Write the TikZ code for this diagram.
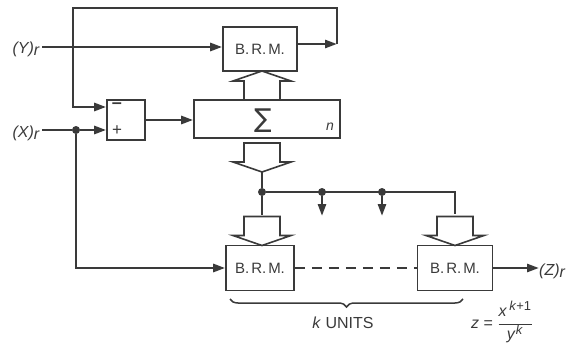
\documentclass[tikz,border=0pt]{standalone}
\usepackage{fontspec}
\setmainfont{Liberation Sans}
\newfontfamily\symfont{DejaVu Sans}
\usetikzlibrary{arrows.meta,decorations.pathreplacing}
\definecolor{ink}{HTML}{3A3A3A}
\newcommand\brmtext{B.\hspace{2pt}R.\hspace{2pt}M.}
\begin{document}
\begin{tikzpicture}[x=1pt,y=-1pt,
  blk/.style={draw=ink,line width=1.6pt,rectangle,inner sep=0pt,text=ink,font=\fontsize{15}{16}\selectfont},
  conn/.style={draw=ink,line width=2.6pt},
  arr/.style={-{Triangle[length=12pt,width=8pt]}},
  dot/.style={circle,fill=ink,inner sep=0pt,minimum size=8pt},
  lbl/.style={text=ink,font=\fontsize{16}{17}\selectfont\itshape,inner sep=0pt},
  hol/.style={draw=ink,line width=1.6pt,fill=white,line join=miter},
  hollow/.pic={\path[hol] (-18,-29) -- (-18,-10) -- (-29,-10) -- (0,0) -- (29,-10) -- (18,-10) -- (18,-29) -- cycle;}
]
\useasboundingbox (0,0) rectangle (573,345);

% blocks
\node[blk,minimum width=74pt,minimum height=44pt] (brm1) at (260,49) {\brmtext};
\node[blk,minimum width=38pt,minimum height=40pt] (sub) at (126,120) {};
\node[text=ink,font=\fontsize{18}{18}\selectfont,inner sep=0pt] (minus) at (117,106) {\textbf{--}};
\node[text=ink,font=\fontsize{17}{17}\selectfont,inner sep=0pt] (plus) at (117,131) {+};
\node[blk,minimum width=146pt,minimum height=38pt] (sig) at (267,119) {};
\node[text=ink,inner sep=0pt,font=\symfont\fontsize{26}{28}\selectfont] (sigma) at (263,121) {∑};
\node[lbl,font=\fontsize{14}{15}\selectfont\itshape] (nlab) at (330,127) {n};
\node[blk,minimum width=68pt,minimum height=45pt] (brm2) at (260,268) {\brmtext};
\node[blk,minimum width=75pt,minimum height=45pt] (brm3) at (455,268) {\brmtext};

% labels
\node[lbl,anchor=east] (ylab) at (40,49) {(Y)$_{\textit{r}}$};
\node[lbl,anchor=east] (xlab) at (40,133) {(X)$_{\textit{r}}$};
\node[lbl,anchor=west] (zlab) at (539,271) {(Z)$_{\textit{r}}$};
\node[text=ink,inner sep=0pt,font=\fontsize{16}{17}\selectfont] (units) at (343,323) {\textit{k} UNITS};
\node[text=ink,inner sep=0pt,anchor=west,font=\fontsize{16}{18}\selectfont] (formula) at (471,322) {\textit{z} = $\displaystyle\frac{\mbox{\textit{x}}^{\mbox{\fontsize{13}{13}\selectfont\,\textit{k}+1}}}{\mbox{\textit{y}}^{\mbox{\fontsize{13}{13}\selectfont\textit{k}}}}$};

% coordinates
\coordinate (yin) at (42,47);
\coordinate (xin) at (42,130);
\coordinate (fbR) at (337,44);
\coordinate (fbTR) at (337,8);
\coordinate (fbTL) at (73,8);
\node[dot] (jx) at (76,130) {};
\node[dot] (jb) at (262,192) {};
\node[dot] (j1) at (322,192) {};
\node[dot] (j2) at (382,192) {};
\coordinate (a1) at (322,216);
\coordinate (a2) at (382,216);
\coordinate (busR) at (455,192);
\coordinate (zout) at (539,268);

% connectors
\draw[conn,arr] (yin) -- (yin -| brm1.west);
\draw[conn,arr] ([yshift=5pt]brm1.east) -- (fbR);
\draw[conn,arr] (fbR) -- (fbTR) -- (fbTL) |- ([yshift=13pt]sub.west);
\draw[conn] (xin) -- (jx);
\draw[conn,arr] (jx) -- ([yshift=-10pt]sub.west);
\draw[conn,arr] (jx) |- (brm2.west);
\draw[conn,arr] (sub.east) -- (sub.east -| sig.west);
\draw[conn] (262,172) -- (jb) -- (262,215);
\draw[conn] (jb) -- (busR) -- (455,214);
\draw[conn,arr] (j1) -- (a1);
\draw[conn,arr] (j2) -- (a2);
\draw[draw=ink,line width=1.4pt,dash pattern=on 10pt off 7pt] (brm2.east) -- (brm3.west);
\draw[conn,arr] (brm3.east) -- (zout);

% hollow arrows
\pic at (262,71) [rotate=180] {hollow};
\pic at (262,172) {hollow};
\pic at (262,245.5) {hollow};
\pic at (455,245.5) {hollow};

% brace
\draw[draw=ink,line width=1.5pt,decorate,decoration={brace,mirror,amplitude=8pt}] (230,299) -- (463,299);
\end{tikzpicture}
\end{document}
